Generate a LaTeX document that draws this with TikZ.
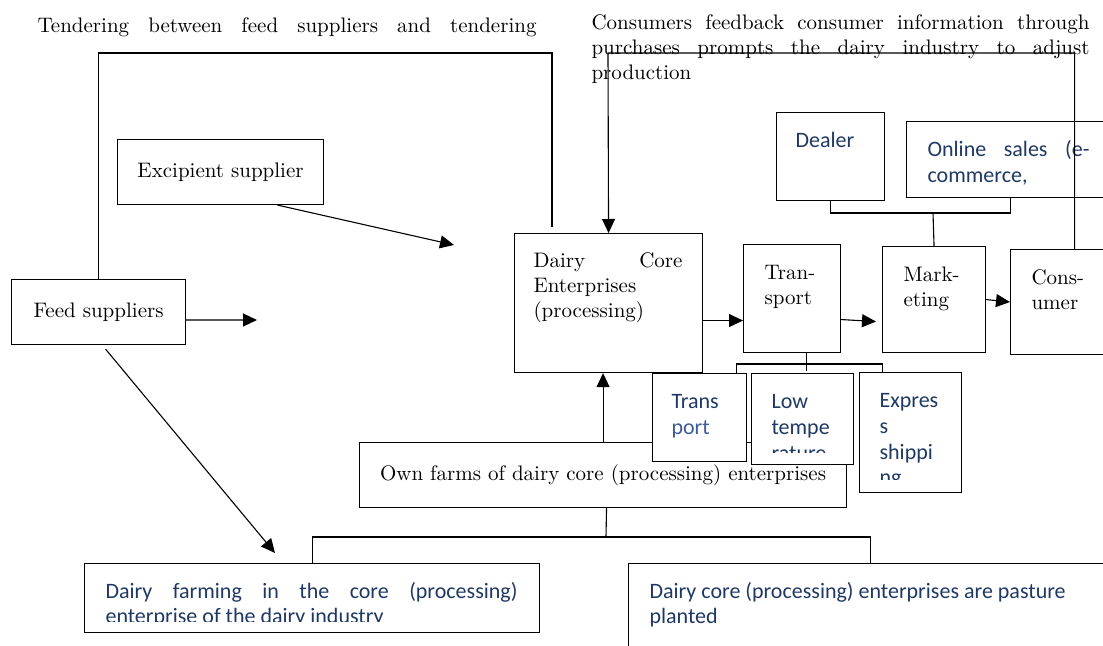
\documentclass[tikz,border=0pt]{standalone}
\usepackage{fontspec}
\newfontfamily\bluefont{Carlito}
\usepackage{tikz}
\usetikzlibrary{positioning,arrows.meta}
\definecolor{textblue}{RGB}{31,56,100}
\definecolor{paleblue}{RGB}{62,92,148}
\newcommand{\jline}[2]{\makebox[#1][s]{#2}}
\newcommand{\tlines}[1]{\begin{tabular}[t]{@{}l@{}}#1\end{tabular}}

\tikzset{
  box/.style={draw, line width=0.55pt, inner sep=0pt, anchor=north west,
    font=\fontsize{10.5}{12.3}\selectfont},
  wbox/.style={box, fill=white},
  txt/.style={inner sep=0pt, anchor=base west,
    font=\fontsize{10.5}{12.3}\selectfont},
  btxt/.style={txt, text=textblue, font=\bluefont\fontsize{11}{12.8}\selectfont},
  arr/.style={-{Triangle[length=7pt,width=6.5pt]}},
}

\begin{document}
\begin{tikzpicture}[x=0.5pt, y=-0.5pt, line width=0.55pt]
  \useasboundingbox (0,0) rectangle (1103,646);

  % texts at the top
  \node[txt] (tender) at (37,33) {\jline{249.5pt}{Tendering between feed suppliers and tendering}};
  \node[txt] (feedback) at (591,30) {\tlines{\jline{249pt}{Consumers feedback consumer information through}\\
    \jline{249pt}{purchases prompts the dairy industry to adjust}\\ production}};

  % suppliers
  \node[box, minimum width=103pt, minimum height=32.5pt] (excip) at (117,139) {Excipient supplier};
  \node[box, minimum width=87pt, minimum height=32.5pt] (feed) at (11,279) {Feed suppliers};

  % core enterprise and the chain
  \node[box, minimum width=94pt, minimum height=69.5pt] (core) at (514,233) {};
  \node[txt] (coretext) at (533,268) {\tlines{\jline{74.5pt}{Dairy Core}\\ Enterprises\\ (processing)}};
  \node[box, minimum width=48.5pt, minimum height=54pt] (trans) at (743,244) {};
  \node[txt] (transtext) at (764,280) {\tlines{Tran-\\ sport}};
  \node[box, minimum width=51.5pt, minimum height=53pt] (market) at (882,246) {};
  \node[txt] (markettext) at (903,282) {\tlines{Mark-\\ eting}};
  \node[box, minimum width=60pt, minimum height=52.5pt] (consumer) at (1010,249) {};
  \node[txt] (consumertext) at (1031,285) {\tlines{Cons-\\ umer}};

  % sales channels
  \node[box, minimum width=54pt, minimum height=44pt] (dealer) at (776,112) {};
  \node[btxt] (dealertext) at (795,148) {Dealer};
  \node[box, minimum width=110pt, minimum height=38pt] (online) at (906,121) {};
  \node[btxt] (onlinetext) at (927,157) {\tlines{\jline{81pt}{Online sales (e-}\\ commerce,}};

  % own farms
  \node[box, minimum width=243.5pt, minimum height=32.5pt] (ownfarm) at (359,442)
    {Own farms of dairy core (processing) enterprises};

  % transport modes
  \node[wbox, minimum width=47pt, minimum height=44pt] (tport) at (652,373) {};
  \node[btxt] (tporttext) at (671,409) {\tlines{Trans\\ \textcolor{paleblue}{port}}};
  \node[wbox, minimum width=51pt, minimum height=45.5pt] (lowtemp) at (751,373) {};
  \begin{scope}
    \clip (751,373) rectangle (853,453);
    \node[btxt] (lowtemptext) at (771,409) {\tlines{Low\\ tempe\\ rature}};
  \end{scope}
  \node[wbox, minimum width=51pt, minimum height=60pt] (express) at (859,372) {};
  \begin{scope}
    \clip (859,372) rectangle (961,480);
    \node[btxt] (expresstext) at (879,408) {\tlines{Expres\\ s\\ shippi\\ ng}};
  \end{scope}

  % farms at the bottom
  \node[box, minimum width=227.5pt, minimum height=34.5pt] (farming) at (84,563) {};
  \begin{scope}
    \clip (84,563) rectangle (539,621);
    \node[btxt] (farmingtext) at (105,598) {\tlines{\jline{206pt}{Dairy farming in the core (processing)}\\
      enterprise of the dairy industry}};
  \end{scope}
  \node[box, minimum width=246pt, minimum height=60pt] (pasture) at (628,563) {};
  \node[btxt] (pasturetext) at (649,598) {\tlines{Dairy core (processing) enterprises are pasture\\ planted}};

  % connectors
  \coordinate (tendtop) at (552,53);
  \coordinate (tendend) at (552,227);
  \draw (feed.north) |- (tendtop) -- (tendend);
  \coordinate (excipend) at (454,245);
  \draw[arr] ([xshift=28.5pt]excip.south) -- (excipend);
  \coordinate (feedend) at (257,320);
  \draw[arr] ([yshift=-4pt]feed.east) -- (feedend);
  \coordinate (farmend) at (275,553);
  \draw[arr] ([shift={(3.5pt,-2pt)}]feed.south) -- (farmend);

  \draw[arr] ([yshift=-8.75pt]core.east) -- ([yshift=-8.75pt]core.east -| trans.west);
  \draw[arr] ([yshift=-10.5pt]trans.east) -- ([shift={(-3pt,-11pt)}]market.west);
  \draw[arr] (market.east) -- (consumer.west);

  \coordinate (sales) at (933,213);
  \draw (dealer.south) |- (sales) -| ([xshift=-3pt]online.south);
  \draw (sales) -- (market.north);

  \coordinate (fbtop) at (608,53);
  \draw[arr] ([xshift=2pt]consumer.north) |- (fbtop) -- (core.north);

  \coordinate (modes) at (806,364);
  \draw ([xshift=7pt]trans.south) -- ++(0,-9pt);
  \draw ([xshift=18.5pt]tport.north) |- (modes) -| ([xshift=-14pt]express.north);

  \draw[arr] (ownfarm.north) -- (ownfarm.north |- core.south);
  \coordinate (farms) at (606,537);
  \draw ([xshift=1.75pt]ownfarm.south) -- (farms);
  \draw (farming.north) |- (farms) -| ([xshift=-2pt]pasture.north);
\end{tikzpicture}
\end{document}
